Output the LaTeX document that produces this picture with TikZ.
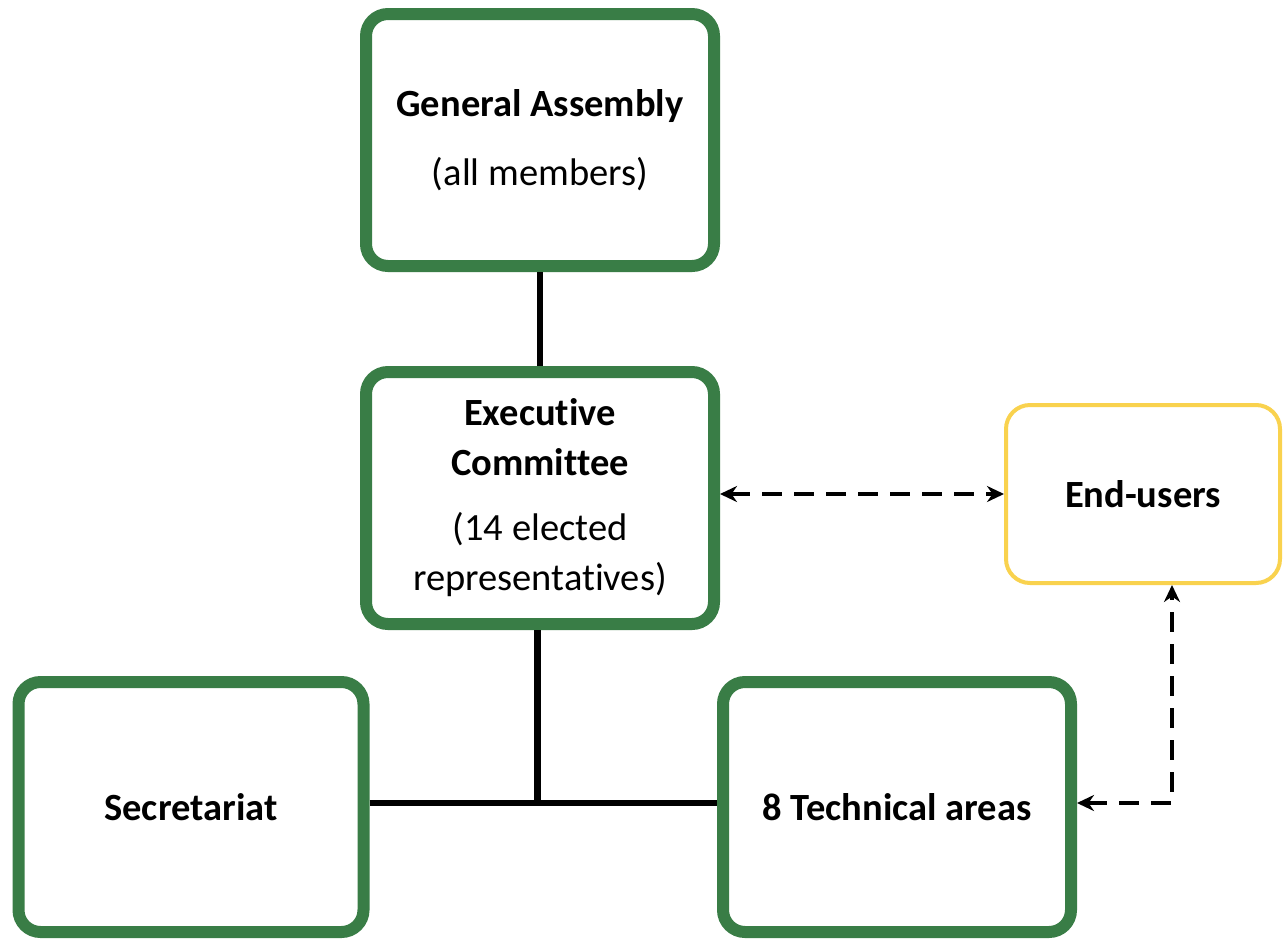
\documentclass[tikz,border=0pt]{standalone}
\usepackage{fontspec}
\setmainfont[Ligatures={NoCommon,NoDiscretionary}]{Carlito}
\usetikzlibrary{arrows.meta}
\definecolor{boxgreen}{RGB}{57,125,70}
\definecolor{boxyellow}{RGB}{249,210,78}
\begin{document}
\begin{tikzpicture}[x=1pt,y=-1pt,
  boxtext/.style={inner sep=0pt, align=center, font=\fontsize{38.5}{50}\selectfont},
  greenbox/.style={boxtext, draw=boxgreen, line width=12pt, rounded corners=22pt,
    fill=white, minimum width=348pt, minimum height=252pt},
  yellowbox/.style={boxtext, draw=boxyellow, line width=4pt, rounded corners=24pt,
    fill=white, minimum width=274pt, minimum height=178pt},
  solidlink/.style={draw=black, line width=6pt},
  dashlink/.style={draw=black, line width=4pt, dash pattern=on 20pt off 12pt,
    {Stealth[length=17pt,width=16pt]}-{Stealth[length=17pt,width=16pt]}}]
\useasboundingbox[fill=white] (0,0) rectangle (1283,938);

% boxes
\node[greenbox] (ga) at (540,140) {\textbf{General Assembly}\\[19pt](all members)};
\node[greenbox] (ec) at (540,498) {\textbf{Executive}\\\textbf{Committee}\\[15pt](14 elected\\representatives)};
\node[yellowbox] (eu) at (1143,494) {\textbf{End-users}};
\node[greenbox, minimum width=345pt, minimum height=250pt] (sec) at (191,807) {\textbf{Secretariat}};
\node[greenbox, minimum height=250pt] (tech) at (897,807) {\textbf{8 Technical areas}};

% reporting lines
\coordinate (j) at (537,803);
\draw[solidlink] (ga.south) -- (ec.north);
\draw[solidlink, line width=7pt] (j |- ec.south) -- (j);
\draw[solidlink] (sec.east |- j) -- (tech.west |- j);

% links to end-users
\coordinate (c) at (1172,803);
\draw[dashlink] (ec.east |- eu.west) -- (eu.west);
\draw[dashlink] (tech.east |- c) -- (c) -- (c |- eu.south);
\end{tikzpicture}
\end{document}
